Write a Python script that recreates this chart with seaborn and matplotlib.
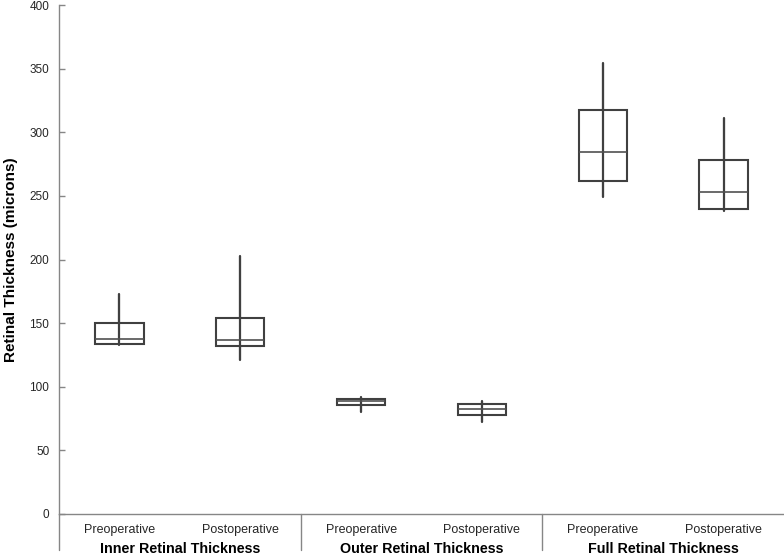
import matplotlib
matplotlib.use("Agg")
import matplotlib.pyplot as plt
import pandas as pd
import seaborn as sns

# five-number summaries (min, q1, median, q3, max)
groups = ["Inner Retinal Thickness", "Outer Retinal Thickness", "Full Retinal Thickness"]
phases = ["Preoperative", "Postoperative"]
keys = ["Inner Pre", "Inner Post", "Outer Pre", "Outer Post", "Full Pre", "Full Post"]
mins = [133, 121, 80, 72, 249, 238]
q1s = [133.3, 132.3, 85.7, 78, 261.4, 239.4]
medians = [137.5, 136.5, 88.5, 82.3, 284.2, 252.8]
q3s = [150.3, 153.8, 90.5, 86.7, 317.2, 278.2]
maxs = [172.9, 203, 92, 88.8, 354.7, 311]

rows = []
for k, a, b, c, d, e in zip(keys, mins, q1s, medians, q3s, maxs):
    for v in (a, b, c, d, e):
        rows.append({"group": k, "value": v})
df = pd.DataFrame(rows)

sns.set_style("white")
plt.rcParams["font.family"] = ["Liberation Sans", "DejaVu Sans"]

fig = plt.figure(figsize=(7.84, 5.58), dpi=100)
ax = fig.add_axes([59 / 784, 1 - 514 / 558, 1 - 59 / 784, 509 / 558])

line_c = "#404040"
axis_c = "#868686"

sns.boxplot(data=df, x="group", y="value", order=keys, whis=(0, 100), width=0.4,
            color="white", linecolor=line_c, linewidth=1.5, showcaps=False,
            fliersize=0, medianprops={"color": "#505050", "linewidth": 1.2}, ax=ax)

# whisker line drawn from min to max right through the box
sns.pointplot(data=df, x="group", y="value", order=keys, estimator="median",
              errorbar=("pi", 100), linestyle="none", marker="", color=line_c,
              err_kws={"linewidth": 1.6}, ax=ax)

ax.set_xlim(-0.5, 5.5)
ax.set_ylim(0, 400)
ax.set_yticks(range(0, 401, 50))
ax.set_xticks(range(6))
ax.set_xticklabels(phases * 3, fontsize=9, color="#262626")
ax.tick_params(axis="x", length=0, pad=7)
ax.tick_params(axis="y", direction="in", length=4, width=1, color=axis_c,
               labelsize=8.5, labelcolor="#262626", left=True, pad=7)
ax.set_xlabel("")
ax.set_ylabel("Retinal Thickness (microns)", fontsize=11, fontweight="bold",
              color="black", labelpad=8)

for s in ["top", "right"]:
    ax.spines[s].set_visible(False)
ax.spines["left"].set_color(axis_c)
ax.spines["bottom"].set_color(axis_c)
ax.spines["left"].set_linewidth(1)
ax.spines["bottom"].set_linewidth(1)

# extend left axis and category separators below the x axis
drop = -36 / 509
ax.plot([0, 0], [0, drop], transform=ax.transAxes, color=axis_c, lw=1, clip_on=False)
trans = ax.get_xaxis_transform()
for xs in (1.5, 3.5):
    ax.plot([xs, xs], [0, drop], transform=trans, color=axis_c, lw=1, clip_on=False)

for i, g in enumerate(groups):
    ax.text(2 * i + 0.5, -35 / 509, g, transform=trans, ha="center", va="center",
            fontsize=10.3, fontweight="bold", color="black")

fig.savefig("out.png", dpi=100)
